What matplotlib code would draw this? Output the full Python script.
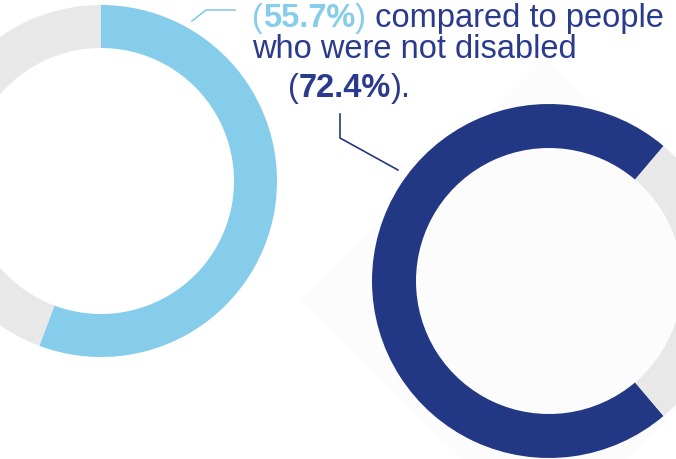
import matplotlib.pyplot as plt
from matplotlib.patches import Polygon

W, H = 676, 459

# share of people in employment, disabled vs not disabled
labels = ["disabled", "not disabled"]
shares = [55.7, 72.4]

light_blue = "#85cdea"
dark_blue = "#233884"
text_blue = "#2a3a8c"
grey = "#e8e8e8"

plt.rcParams["font.family"] = ["Liberation Sans", "DejaVu Sans"]

fig = plt.figure(figsize=(W / 100, H / 100), dpi=100)
ax = fig.add_axes([0, 0, 1, 1])


def py(y):
    # pixel rows counted from the top
    return H - y


# faint diamond behind the right ring
ax.add_patch(Polygon([(300, py(300)), (545, py(60)), (790, py(300)), (545, py(540))],
                     closed=True, facecolor="#fcfcfc", edgecolor="none", zorder=0))

# left ring: starts at 12 o'clock, runs clockwise
ax.pie([shares[0], 100 - shares[0]], colors=[light_blue, grey], startangle=90,
       counterclock=False, center=(101, py(181)), radius=176,
       wedgeprops=dict(width=43, edgecolor="none"))
# right ring: gap centred on the right-hand side
ax.pie([shares[1], 100 - shares[1]], colors=[dark_blue, grey],
       startangle=(100 - shares[1]) * 1.8, counterclock=True,
       center=(549, py(281)), radius=177,
       wedgeprops=dict(width=44, edgecolor="none"))

ax.set_xlim(0, W)
ax.set_ylim(0, H)
ax.set_aspect("auto")
ax.axis("off")

# leader lines
ax.plot([192, 206, 235], [py(21), py(10), py(10)], color=light_blue, lw=1.2)
ax.plot([340, 340, 398], [py(114), py(138), py(170)], color=dark_blue, lw=1.2)

fs = 23.5
fig.canvas.draw()
renderer = fig.canvas.get_renderer()


def run(x, y, parts):
    # draw text pieces one after another on the same baseline
    for s, color, weight in parts:
        t = ax.text(x, py(y), s, color=color, fontsize=fs, fontweight=weight,
                    va="baseline", ha="left")
        bb = t.get_window_extent(renderer)
        x = x + bb.width


run(252, 27, [("(", light_blue, "normal"), (f"{shares[0]}%", light_blue, "bold"),
              (")", light_blue, "normal"), (" compared to people", text_blue, "normal")])
run(252, 58, [("who were not disabled", text_blue, "normal")])
run(288, 97, [("(", text_blue, "normal"), (f"{shares[1]}%", text_blue, "bold"),
              (").", text_blue, "normal")])

fig.savefig("out.png", dpi=100)
